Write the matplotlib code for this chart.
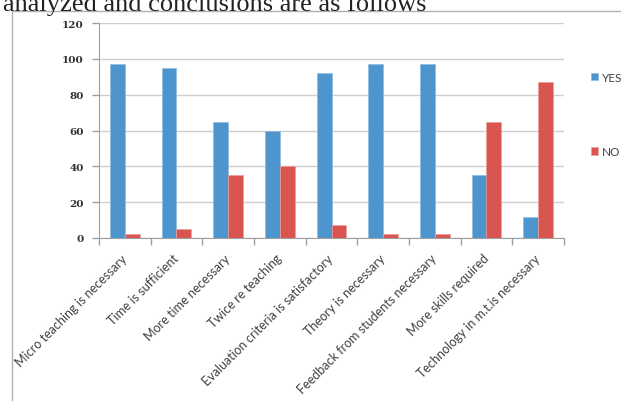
import numpy as np
import matplotlib.pyplot as plt
from matplotlib.patches import Rectangle

categories = ['Micro teaching is necessary', 'Time is sufficient', 'More time necessary',
              'Twice re teaching', 'Evaluation criteria is satisfactory', 'Theory is necessary',
              'Feedback from students necessary', 'More skills required',
              'Technology in m.t.is necessary']
yes = [97, 95, 65, 60, 92, 97, 97, 35, 12]
no = [2.5, 5, 35, 40, 7, 2.5, 2.5, 65, 87]
yticks = [0, 20, 40, 60, 80, 100, 120]

W, H = 621, 402
fig = plt.figure(figsize=(W / 100, H / 100), dpi=100)

# heading of the page, cut by the top edge
fig.text(3 / W, 1 - 10.5 / H, 'analyzed and conclusions are as follows',
         family='Liberation Serif', fontsize=19, va='baseline', ha='left', color='#222222')

# chart area border (partly off-canvas)
fig.patches.append(Rectangle((12 / W, -0.05), 1.1, 1 - 12 / H + 0.05, transform=fig.transFigure,
                             facecolor='white', edgecolor='#b0b0b0', linewidth=1, zorder=1))

ax = fig.add_axes([99 / W, 1 - 239 / H, (564 - 99) / W, (239 - 24) / H])
ax.set_zorder(2)
ax.patch.set_alpha(0)

x = np.arange(len(categories))
w = 0.285
ax.bar(x - w / 2, yes, w, color='#4f95cd', edgecolor='#8fbbe0', linewidth=0.5, label='YES', zorder=3)
ax.bar(x + w / 2, no, w, color='#d95550', edgecolor='#eba09c', linewidth=0.5, label='NO', zorder=3)

ax.set_xlim(-0.5, len(categories) - 0.5)
ax.set_ylim(0, 120)
ax.set_yticks(yticks)
ax.set_yticklabels([str(v) for v in yticks], family='DejaVu Serif', fontsize=7.5,
                   color='#303030', fontweight='bold')
ax.yaxis.grid(True, color='#cfcfcf', linewidth=1)
ax.set_axisbelow(True)

ax.set_xticks(np.arange(len(categories) + 1) - 0.5)
ax.set_xticklabels([])
ax.set_xticks(x, minor=True)
ax.set_xticklabels(categories, minor=True, rotation=45, ha='right', va='center',
                   rotation_mode='anchor', family='Lato', fontsize=9, color='#404040')
ax.tick_params(axis='x', which='minor', length=0, pad=13)
ax.tick_params(axis='x', which='major', length=5, color='#a0a0a0', width=1)
ax.tick_params(axis='y', length=5, color='#a0a0a0', width=1, pad=6)

for s in ['top', 'right']:
    ax.spines[s].set_visible(False)
ax.spines['left'].set_color('#a0a0a0')
ax.spines['bottom'].set_color('#a0a0a0')

leg = ax.legend(loc='upper left', bbox_to_anchor=(580 / W, 1 - 62 / H), bbox_transform=fig.transFigure,
                frameon=False, handlelength=0.65, handleheight=0.65, handletextpad=0.3,
                labelspacing=5.4, prop={'family': 'Lato', 'size': 8.5})
for t in leg.get_texts():
    t.set_color('#404040')

fig.savefig('out.png', dpi=100)
